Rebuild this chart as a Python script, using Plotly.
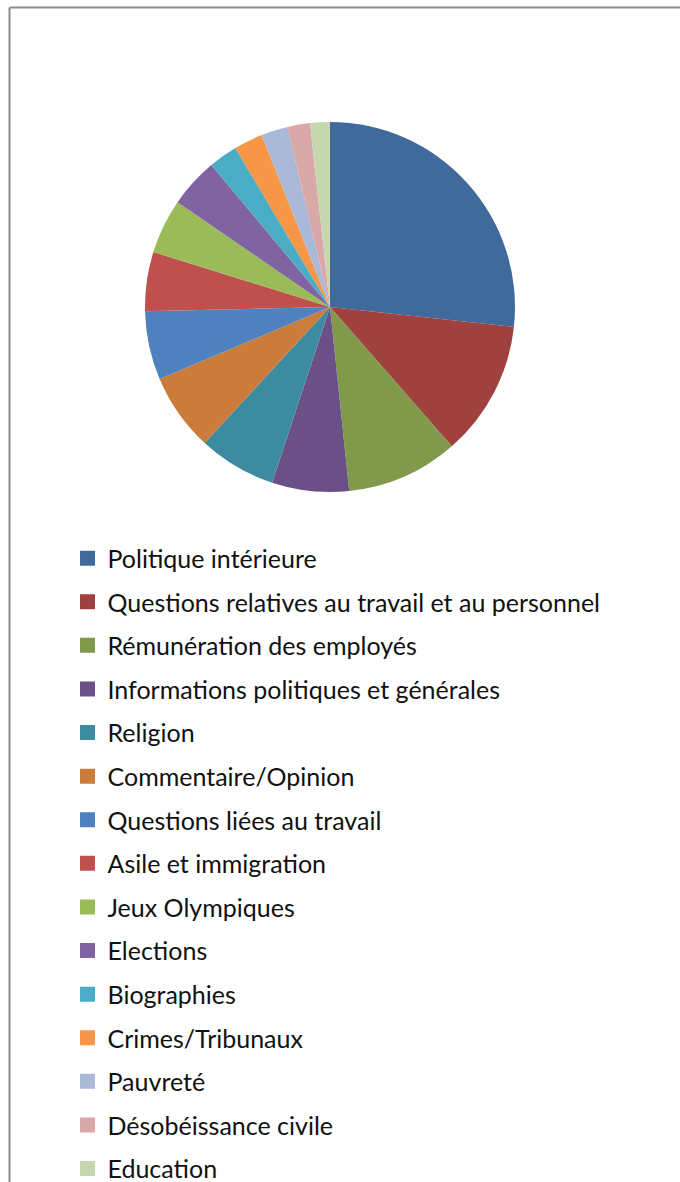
import plotly.graph_objects as go

labels = [
    "Politique intérieure",
    "Questions relatives au travail et au personnel",
    "Rémunération des employés",
    "Informations politiques et générales",
    "Religion",
    "Commentaire/Opinion",
    "Questions liées au travail",
    "Asile et immigration",
    "Jeux Olympiques",
    "Elections",
    "Biographies",
    "Crimes/Tribunaux",
    "Pauvreté",
    "Désobéissance civile",
    "Education",
]
values = [26.7, 11.85, 9.78, 6.72, 6.78, 6.78, 6.0, 5.17, 4.78, 4.33, 2.53, 2.53, 2.33, 1.97, 1.72]
colors = [
    "#3F6A9B", "#9E413F", "#80994A", "#6A5087", "#3D8BA0", "#CB7B3A",
    "#4E81BD", "#C0504D", "#9BBB59", "#8064A2", "#4BACC6", "#F79646",
    "#AAB9D7", "#D8A9A8", "#C6D7AF",
]

W, H = 680, 1182
cx, cy, r = 330, 307, 185

fig = go.Figure()
fig.add_trace(go.Pie(
    labels=labels, values=values, sort=False, direction="clockwise", rotation=0,
    marker=dict(colors=colors, line=dict(width=0)),
    textinfo="none", hoverinfo="label+percent", showlegend=False,
    domain=dict(x=[(cx - r) / W, (cx + r) / W], y=[1 - (cy + r) / H, 1 - (cy - r) / H]),
))
# legend entries (one per category, same labels and colours as the slices)
for i, (lab, col) in enumerate(zip(labels, colors)):
    fig.add_trace(go.Scatter(
        x=[None], y=[None], mode="markers", name=lab, legendgroup=f"g{i}",
        marker=dict(symbol="square", size=15, color=col),
        showlegend=True, hoverinfo="skip",
    ))

fig.update_layout(
    width=W, height=H,
    margin=dict(l=0, r=0, t=0, b=0, autoexpand=False),
    paper_bgcolor="white", plot_bgcolor="white",
    xaxis=dict(visible=False), yaxis=dict(visible=False),
    font=dict(family="Lato, Carlito, Calibri, sans-serif", color="#111111"),
    legend=dict(
        x=67.5 / W, xanchor="left", y=1 - 535.4 / H, yanchor="top",
        font=dict(size=25, family="Lato, sans-serif", color="#111111"),
        tracegroupgap=8.1, traceorder="grouped", bgcolor="rgba(0,0,0,0)",
        borderwidth=0,
    ),
    shapes=[
        dict(type="line", xref="paper", yref="paper", x0=9.5 / W, x1=1.0, y0=1 - 7.5 / H, y1=1 - 7.5 / H,
             line=dict(color="#8C8C8C", width=2)),
        dict(type="line", xref="paper", yref="paper", x0=9.5 / W, x1=9.5 / W, y0=1 - 7.5 / H, y1=0,
             line=dict(color="#8C8C8C", width=2)),
    ],
)
fig.write_html("out.html", config={"displayModeBar": False},
               post_script="document.body.style.margin='0';document.body.style.overflow='hidden';")
